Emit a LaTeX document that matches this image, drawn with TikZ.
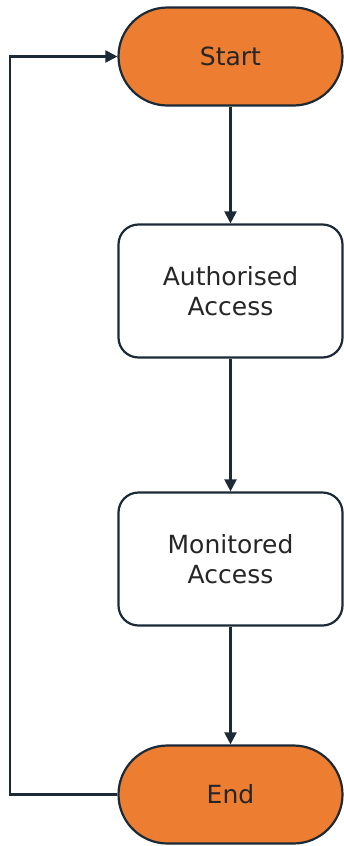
\documentclass[tikz,border=0pt]{standalone}
\usepackage{fontspec}
\setmainfont{DejaVu Sans}
\usetikzlibrary{arrows.meta}
\definecolor{orangefill}{HTML}{ED7D31}
\definecolor{edgecol}{HTML}{1B2A36}
\definecolor{txtcol}{HTML}{262626}
\tikzset{
  x=1pt, y=-1pt,
  pill/.style={draw=edgecol, line width=2.2pt, fill=orangefill, rounded corners=49pt,
    minimum width=224pt, minimum height=98pt, inner sep=0pt, text=txtcol,
    font=\fontsize{25}{30}\selectfont},
  procbox/.style={draw=edgecol, line width=2.2pt, fill=white, rounded corners=20pt,
    minimum width=224pt, minimum height=133pt, inner sep=0pt, text=txtcol, align=center,
    font=\fontsize{25}{30}\selectfont},
  conn/.style={draw=edgecol, line width=2.2pt, -{Triangle[length=12pt,width=12pt]}},
}
\begin{document}
\begin{tikzpicture}
\useasboundingbox (0,0) rectangle (344,846);
\node[pill] (start) at (230.5,56.5) {Start};
\node[procbox] (auth) at (230.5,291) {Authorised\\Access};
\node[procbox] (mon) at (230.5,559) {Monitored\\Access};
\node[pill] (end) at (230.5,794.5) {End};
\coordinate (c1) at (10,794.5);
\coordinate (c2) at (10,56.5);
\draw[conn] (start) -- (auth);
\draw[conn] (auth) -- (mon);
\draw[conn] (mon) -- (end);
\draw[conn] (end.west) -- (c1) -- (c2) -- (start.west);
\end{tikzpicture}
\end{document}
